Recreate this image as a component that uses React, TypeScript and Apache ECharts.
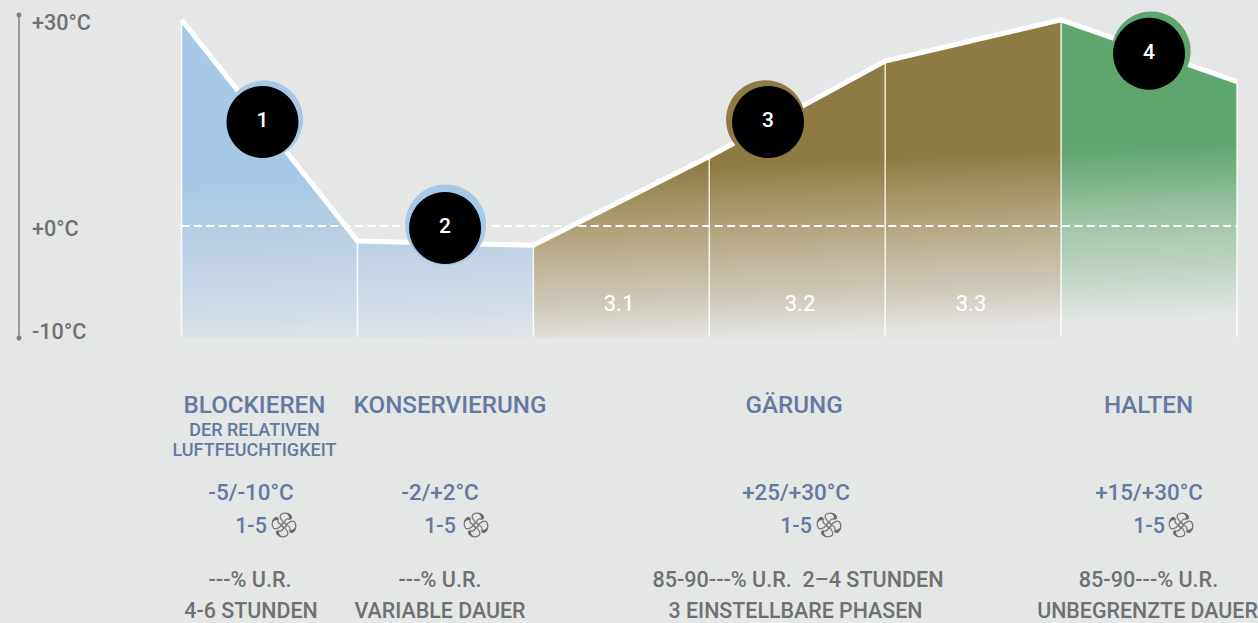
import React, { useEffect, useRef } from "react";
import * as echarts from "echarts";

// ---------- data ----------
const stageX = [0, 1, 2, 3, 4, 5, 6];
const profile = [30, -2.2, -2.8, 10.1, 24, 30, 21];
const yTickLabels = ["-10°C", "+0°C", "+30°C"];
const yTickPositions = [-15.3, -0.4, 29.6];
const markerNumbers = ["1", "2", "3", "4"];
const markerX = [0.46, 1.498, 3.334, 5.5];
const markerY = [15.13, -0.29, 15.13, 25.07];
const ringX = [0.469, 1.501, 3.32, 5.512];
const ringY = [15.5, 0.15, 15.47, 25.47];
const subPhases = ["3.1", "3.2", "3.3"];
const titles = ["BLOCKIEREN", "KONSERVIERUNG", "GÄRUNG", "HALTEN"];
const subtitle = ["DER RELATIVEN", "LUFTFEUCHTIGKEIT"];
const temperatures = ["-5/-10°C", "-2/+2°C", "+25/+30°C", "+15/+30°C"];
const fanSpeeds = ["1-5", "1-5", "1-5", "1-5"];
const humidity = ["---% U.R.", "---% U.R.", "85-90---% U.R.  2–4 STUNDEN", "85-90---% U.R."];
const durations = ["4-6 STUNDEN", "VARIABLE DAUER", "3 EINSTELLBARE PHASEN", "UNBEGRENZTE DAUER"];

// ---------- layout & style ----------
const W = 1258;
const H = 623;
const BG = "#e5e6e6";
const BLUE = "#6479a0";
const GRAY = "#6f7072";
const FONT = "Roboto, sans-serif";
const RING_COLORS = ["#a5c9e6", "#a5c9e6", "#8e7a45", "#5fa56f"];
const RING_SIZES = [78, 81, 79, 79];
const titleX = [254.5, 450, 794, 1148.5];
const tempX = [251, 440, 796, 1149];
const speedX = [251, 440, 796, 1149];
const fanX = [284, 476, 829, 1181];
const humX = [250, 440, 798, 1148.5];
const durX = [251, 440, 795.5, 1147.5];
const subPhaseX = [619, 800, 971];

const fade = (solid: string, mid: string, low: string, end: string) =>
  new echarts.graphic.LinearGradient(
    700, 20, 713, 338,
    [
      { offset: 0, color: solid },
      { offset: 0.456, color: solid },
      { offset: 0.648, color: mid },
      { offset: 0.88, color: low },
      { offset: 1, color: end },
    ],
    true
  );

const rot = (p: number[], n: number) => {
  let [x, y] = p;
  for (let i = 0; i < n; i++) [x, y] = [24 - y, x];
  return x.toFixed(2) + " " + y.toFixed(2);
};
const blade = (n: number) => {
  const r = (a: number, b: number) => rot([a, b], n);
  return `M${r(12, 10)}C${r(10, 8)} ${r(7, 5)} ${r(9, 2.5)}C${r(11, 0.5)} ${r(16, 0.5)} ${r(18.5, 3.5)}C${r(19.5, 5.5)} ${r(18.5, 7)} ${r(16.5, 6.5)}C${r(14.5, 6)} ${r(13, 7.5)} ${r(12, 10)}Z`;
};
const tip = (n: number) => {
  const r = (a: number, b: number) => rot([a, b], n);
  return `M${r(13.5, 1)}C${r(15.5, 1)} ${r(17.3, 2)} ${r(18.5, 3.5)}C${r(19.5, 5.5)} ${r(18.5, 7)} ${r(16.5, 6.5)}C${r(17, 4.5)} ${r(16, 2.5)} ${r(13.5, 1)}Z`;
};
echarts.graphic.registerShape(
  "fanBlades",
  echarts.graphic.extendPath([0, 1, 2, 3].map(blade).join("") + "M14 12A2 2 0 1 1 10 12A2 2 0 1 1 14 12Z", {})
);
echarts.graphic.registerShape("fanTips", echarts.graphic.extendPath([0, 1, 2, 3].map(tip).join(""), {}));

const text = (s: string, x: number, y: number, size: number, fill: string, weight = 500) => ({
  type: "text",
  x,
  y,
  z: 10,
  style: { text: s, fill, font: `${weight} ${size}px ${FONT}`, textAlign: "center", textVerticalAlign: "middle" },
});

const area = (from: number, to: number, color: any) => ({
  type: "line",
  silent: true,
  showSymbol: false,
  clip: false,
  z: 1,
  lineStyle: { width: 0 },
  itemStyle: { opacity: 0 },
  areaStyle: { color, opacity: 1, origin: "start" },
  data: stageX.slice(from, to + 1).map((x, i) => [x, profile[from + i]]),
});

const Y_MIN = -16.3;
const Y_MAX = 30.7;
const X_MIN = -0.924;

export default function App() {
  const ref = useRef<HTMLDivElement>(null);
  useEffect(() => {
    const chart = echarts.init(ref.current!, null, { renderer: "svg" });
    const graphics: any[] = [];
    subPhases.forEach((s, i) => graphics.push(text(s, subPhaseX[i], 303, 22, "#ffffff", 400)));
    titles.forEach((s, i) => graphics.push(text(s, titleX[i], 405, 24.2, BLUE)));
    subtitle.forEach((s, i) => graphics.push(text(s, titleX[0], 429 + i * 20, 18, BLUE)));
    temperatures.forEach((s, i) => graphics.push(text(s, tempX[i], 492, 22.4, BLUE)));
    fanSpeeds.forEach((s, i) => {
      graphics.push(text(s, speedX[i], 525, 21.5, BLUE));
      graphics.push({
        type: "group",
        x: fanX[i] - 13,
        y: 525 - 13,
        z: 10,
        children: [
          { type: "fanBlades", scaleX: 26 / 24, scaleY: 26 / 24, style: { fill: "none", stroke: "#77787a", lineWidth: 1.2 } },
          { type: "fanTips", scaleX: 26 / 24, scaleY: 26 / 24, style: { fill: "#6a6b6d" } },
        ],
      });
    });
    humidity.forEach((s, i) => graphics.push(text(s, humX[i], 579, 21.6, GRAY)));
    durations.forEach((s, i) => graphics.push(text(s, durX[i], 610, 21.4, GRAY)));

    chart.setOption({
      animation: false,
      backgroundColor: BG,
      grid: { left: 19, right: 21, top: 15, bottom: 285, containLabel: false },
      xAxis: { type: "value", min: X_MIN, max: 6, show: false },
      yAxis: {
        type: "value",
        min: Y_MIN,
        max: Y_MAX,
        position: "left",
        splitLine: { show: false },
        axisTick: { show: false },
        axisLine: {
          show: true,
          onZero: false,
          symbol: ["circle", "circle"],
          symbolSize: [5, 5],
          lineStyle: { color: "#808080", width: 1.5 },
        },
        axisLabel: {
          show: true,
          inside: true,
          margin: 13,
          customValues: yTickPositions,
          showMinLabel: true,
          showMaxLabel: true,
          fontFamily: FONT,
          fontWeight: 500,
          fontSize: 21.6,
          color: (v: number) => (yTickPositions.indexOf(v) === 0 ? BLUE : GRAY),
          formatter: (v: number) => yTickLabels[yTickPositions.indexOf(v)],
        },
      },
      graphic: graphics,
      series: [
        area(0, 2, fade("#a5c9e6", "#bbd0e5", "#d3dde7", "#e4e6e8")),
        area(2, 5, fade("#8f7a43", "#b0a279", "#d0cabb", "#e3e3e2")),
        area(5, 6, fade("#5fa56e", "#97c19f", "#c8d8cc", "#e4e6e5")),
        ...stageX.map((x, i) => ({
          type: "line",
          silent: true,
          showSymbol: false,
          clip: false,
          z: 2,
          lineStyle: { color: "rgba(255,255,255,0.85)", width: 1.5 },
          data: [[x, Y_MIN + 0.15], [x, profile[i]]],
        })),
        {
          type: "line",
          silent: true,
          showSymbol: false,
          z: 3,
          lineStyle: { color: "#ffffff", width: 2, type: [8, 4.4] },
          data: [[stageX[0], 0], [stageX[6], 0]],
        },
        {
          type: "line",
          silent: true,
          showSymbol: false,
          clip: false,
          z: 4,
          lineStyle: { color: "#ffffff", width: 5, join: "miter" },
          data: stageX.map((x, i) => [x, profile[i]]),
        },
        {
          type: "scatter",
          silent: true,
          clip: false,
          z: 5,
          data: ringX.map((x, i) => ({
            value: [x, ringY[i]],
            symbolSize: RING_SIZES[i],
            itemStyle: { color: RING_COLORS[i], opacity: 1 },
          })),
        },
        {
          type: "scatter",
          silent: true,
          clip: false,
          z: 6,
          symbolSize: 72,
          itemStyle: { color: "#000000", opacity: 1 },
          label: {
            show: true,
            position: "inside",
            offset: [0, -2],
            color: "#ffffff",
            fontFamily: FONT,
            fontWeight: 500,
            fontSize: 21,
            formatter: (p: any) => markerNumbers[p.dataIndex],
          },
          data: markerX.map((x, i) => [x, markerY[i]]),
        },
      ],
    });
    return () => chart.dispose();
  }, []);
  return <div ref={ref} style={{ position: "fixed", left: 0, top: 0, width: W, height: H }} />;
}
